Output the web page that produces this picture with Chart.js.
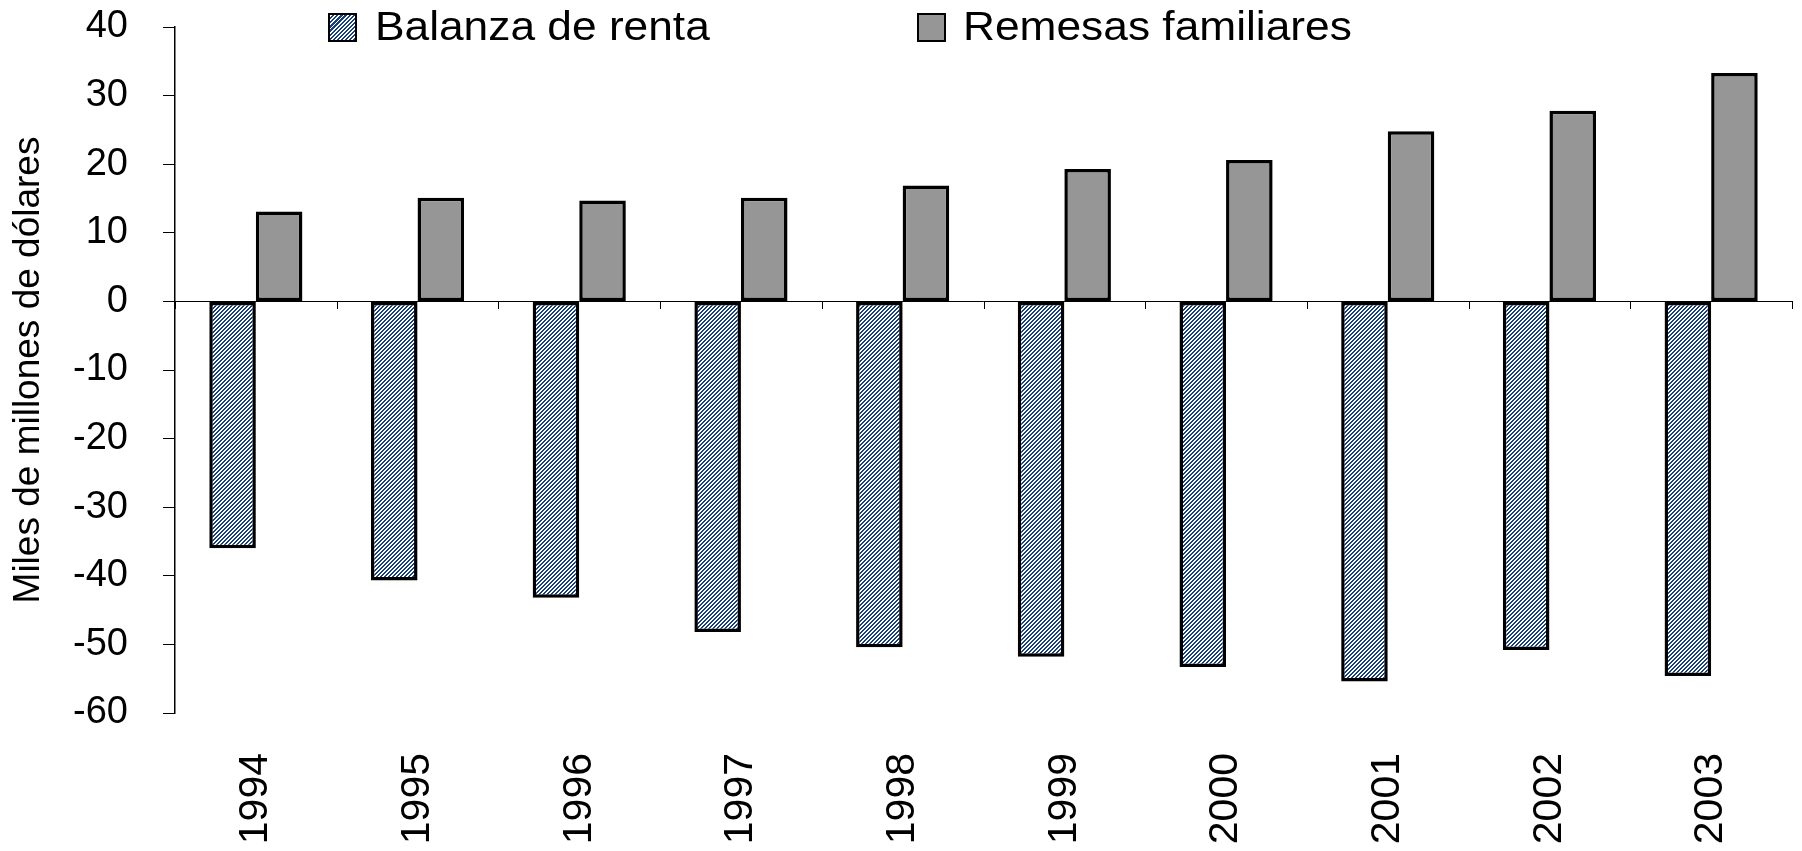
<!DOCTYPE html>
<html>
<head>
<meta charset="utf-8">
<script src="https://cdn.jsdelivr.net/npm/chart.js@4/dist/chart.umd.min.js"></script>
<style>
  html, body { margin: 0; padding: 0; background: #fff; }
  #wrap { position: relative; width: 1802px; height: 851px; }
  .leg-box { position: absolute; top: 13px; width: 25px; height: 25px; border: 2px solid #000; }
  .leg-text { position: absolute; top: 6px; font: 41px "Liberation Sans", Arial, sans-serif;
              line-height: 41px; color: #000; white-space: nowrap;
              transform: scaleX(1.08); transform-origin: left top; }
  #hatchBox { left: 328px; background: repeating-linear-gradient(-45deg, #173f78 0 1.6px, #fff 1.6px 2.9px); }
  #grayBox  { left: 917px; background: #969696; }
</style>
</head>
<body>
<div id="wrap">
  <canvas id="chart" width="1802" height="851"></canvas>
  <div class="leg-box" id="hatchBox"></div>
  <div class="leg-text" style="left:375px">Balanza de renta</div>
  <div class="leg-box" id="grayBox"></div>
  <div class="leg-text" style="left:963px">Remesas familiares</div>
</div>
<script>
/* ── DATA ─────────────────────────────────────────────────── */
const years    = ['1994', '1995', '1996', '1997', '1998', '1999', '2000', '2001', '2002', '2003'];
const balanza  = [-36.0, -40.7, -43.2, -48.2, -50.4, -51.8, -53.3, -55.4, -50.8, -54.6];
const remesas  = [13.1, 15.1, 14.7, 15.1, 16.9, 19.3, 20.6, 24.8, 27.8, 33.3];
const yTicks   = [40, 30, 20, 10, 0, -10, -20, -30, -40, -50, -60];

/* ── HATCH PATTERN ────────────────────────────────────────── */
function makeHatch() {
  const c = document.createElement('canvas');
  c.width = 4; c.height = 4;
  const g = c.getContext('2d');
  g.fillStyle = '#fff';
  g.fillRect(0, 0, 4, 4);
  g.fillStyle = '#173f78';
  for (let x = 0; x < 4; x++) {
    for (let y = 0; y < 4; y++) {
      if ((x + y) % 4 < 2) g.fillRect(x, y, 1, 1);
    }
  }
  return g.createPattern(c, 'repeat');
}

// small category ticks hanging below the zero line
const catTicks = {
  id: 'catTicks',
  afterDraw(chart) {
    const { ctx, scales: { x, y } } = chart;
    const y0 = Math.round(y.getPixelForValue(0));
    ctx.save();
    ctx.strokeStyle = '#000';
    ctx.lineWidth = 1;
    for (let i = 0; i <= years.length; i++) {
      const px = Math.round(x.getPixelForValue(i - 0.5)) + 0.5;
      ctx.beginPath();
      ctx.moveTo(px, y0);
      ctx.lineTo(px, y0 + 8);
      ctx.stroke();
    }
    ctx.restore();
  }
};

const FONT = '"Liberation Sans", Arial, sans-serif';

new Chart(document.getElementById('chart'), {
  type: 'bar',
  data: {
    labels: years,
    datasets: [
      {
        label: 'Balanza de renta',
        data: balanza,
        backgroundColor: makeHatch(),
        borderColor: '#000',
        borderWidth: 3.5,
        borderSkipped: false
      },
      {
        label: 'Remesas familiares',
        data: remesas,
        backgroundColor: '#969696',
        borderColor: '#000',
        borderWidth: 3.5,
        borderSkipped: false
      }
    ]
  },
  options: {
    responsive: false,
    animation: false,
    datasets: { bar: { barPercentage: 1, categoryPercentage: 0.576 } },
    layout: { padding: { top: 27, right: 10, left: 0, bottom: 0 } },
    plugins: {
      legend: { display: false },
      tooltip: { enabled: false }
    },
    scales: {
      x: {
        grid: { display: false, drawTicks: false },
        border: { display: false },
        ticks: {
          autoSkip: false,
          minRotation: 90, maxRotation: 90,
          padding: 40,
          color: '#000',
          font: { family: FONT, size: 41 }
        },
        afterFit(s) { s.height = 138; s.paddingLeft = 0; s.paddingRight = 0; }
      },
      y: {
        min: -60, max: 40,
        afterBuildTicks(s) { s.ticks = yTicks.map(v => ({ value: v })); },
        grid: {
          color: c => (c.tick && c.tick.value === 0) ? '#000' : 'rgba(0,0,0,0)',
          tickColor: '#000',
          tickLength: 12,
          lineWidth: 1
        },
        border: { display: true, color: '#000', width: 1.5 },
        ticks: {
          padding: 35,
          color: '#000',
          font: { family: FONT, size: 38 }
        },
        title: {
          display: true,
          text: 'Miles de millones de dólares',
          color: '#000',
          padding: { top: 7, bottom: 0 },
          font: { family: FONT, size: 37 }
        },
        afterFit(s) { s.width = 175; s.paddingTop = 0; s.paddingBottom = 0; }
      }
    }
  },
  plugins: [catTicks]
});
</script>
</body>
</html>
